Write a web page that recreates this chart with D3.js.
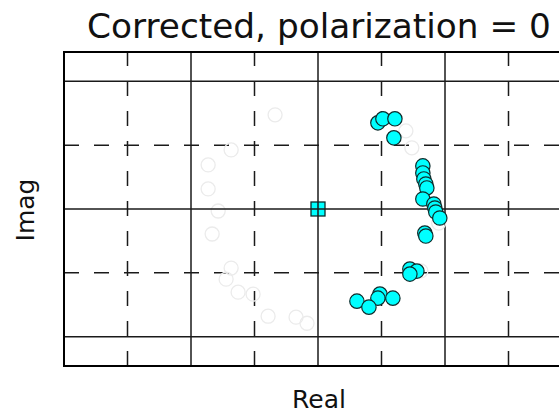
<!DOCTYPE html>
<html><head><meta charset="utf-8">
<script src="https://cdn.jsdelivr.net/npm/d3@7"></script>
<style>html,body{margin:0;padding:0;background:#fff;overflow:hidden}</style>
</head><body><svg id="c" width="559" height="414"></svg>
<script>
const titleText = "Corrected, polarization = 0";
const xLabel = "Real", yLabel = "Imag";
const majorX = [-2, 0, 2], minorX = [-3, -1, 1, 3];
const majorY = [-2, 0, 2], minorY = [-1, 1];
const correctedRe = [0.943,1.022,1.211,1.195,1.651,1.651,1.667,1.698,1.714,1.651,1.824,1.840,1.855,1.918,1.682,1.698,1.447,1.557,1.447,0.975,0.943,1.179,0.613,0.802];
const correctedIm = [1.350,1.413,1.413,1.115,0.675,0.565,0.471,0.392,0.330,0.157,0.078,0.016,-0.047,-0.141,-0.377,-0.424,-0.942,-0.973,-1.020,-1.334,-1.397,-1.397,-1.444,-1.538];
const rawRe = [-0.676,-1.368,-1.730,-1.730,-1.572,-1.667,-1.368,-1.447,-1.258,-1.022,-0.786,-0.346,-0.173,1.384,1.478,1.62,1.90];
const rawIm = [1.476,0.926,0.691,0.314,-0.031,-0.392,-0.926,-1.099,-1.303,-1.334,-1.680,-1.695,-1.790,1.224,0.958,-0.97,-0.22];
const originRe = [0], originIm = [0];

const L = 64, R = 572, T = 52, B = 366;
const x = d3.scaleLinear().domain([-4, 4]).range([L, R]);
const y = d3.scaleLinear().domain([-2.46, 2.46]).range([B, T]);
const svg = d3.select("#c");
const font = "DejaVu Sans, sans-serif";
const lineCol = "#1a1a1a";

const g = svg.append("g");
g.selectAll(".mx").data(minorX).join("line")
  .attr("x1", d => x(d)).attr("x2", d => x(d)).attr("y1", B).attr("y2", T)
  .attr("stroke", lineCol).attr("stroke-width", 1.5).attr("stroke-dasharray", "15,15");
g.selectAll(".my").data(minorY).join("line")
  .attr("x1", L).attr("x2", R).attr("y1", d => y(d)).attr("y2", d => y(d))
  .attr("stroke", lineCol).attr("stroke-width", 1.5).attr("stroke-dasharray", "15,15");
g.selectAll(".Mx").data(majorX.filter(d => d !== 0)).join("line")
  .attr("x1", d => x(d)).attr("x2", d => x(d)).attr("y1", B).attr("y2", T)
  .attr("stroke", lineCol).attr("stroke-width", 1.5);
g.selectAll(".My").data(majorY.filter(d => d !== 0)).join("line")
  .attr("x1", L).attr("x2", R).attr("y1", d => y(d)).attr("y2", d => y(d))
  .attr("stroke", lineCol).attr("stroke-width", 1.5);

svg.append("g").selectAll("circle").data(rawRe.map((d, i) => [d, rawIm[i]])).join("circle")
  .attr("cx", d => x(d[0])).attr("cy", d => y(d[1])).attr("r", 7)
  .attr("fill", "none").attr("stroke", "#ebebeb").attr("stroke-width", 1.3);

svg.append("g").selectAll("rect").data(originRe.map((d, i) => [d, originIm[i]])).join("rect")
  .attr("x", d => x(d[0]) - 7).attr("y", d => y(d[1]) - 7).attr("width", 14).attr("height", 14)
  .attr("fill", "#00ffff").attr("stroke", "#0d2b2b").attr("stroke-width", 1.3);

svg.append("line").attr("x1", x(0)).attr("x2", x(0)).attr("y1", B).attr("y2", T)
  .attr("stroke", lineCol).attr("stroke-width", 1.5);
svg.append("line").attr("x1", L).attr("x2", R).attr("y1", y(0)).attr("y2", y(0))
  .attr("stroke", lineCol).attr("stroke-width", 1.5);

svg.append("g").selectAll("circle").data(correctedRe.map((d, i) => [d, correctedIm[i]])).join("circle")
  .attr("cx", d => x(d[0])).attr("cy", d => y(d[1])).attr("r", 7.2)
  .attr("fill", "#00ffff").attr("stroke", "#0d2b2b").attr("stroke-width", 1.2);

svg.append("rect").attr("x", L).attr("y", T).attr("width", R - L).attr("height", B - T)
  .attr("fill", "none").attr("stroke", "#000").attr("stroke-width", 2);

svg.append("g").attr("transform", `translate(0,${B})`)
  .call(d3.axisBottom(x).tickValues([]).tickSizeOuter(0)).select(".domain").remove();

svg.append("text").attr("x", 319).attr("y", 38).attr("text-anchor", "middle")
  .attr("font-family", font).attr("font-size", 34.3).attr("fill", "#111").text(titleText);
svg.append("text").attr("x", 319).attr("y", 408).attr("text-anchor", "middle")
  .attr("font-family", font).attr("font-size", 25).attr("fill", "#111").text(xLabel);
svg.append("text").attr("transform", "translate(34,210) rotate(-90)").attr("text-anchor", "middle")
  .attr("font-family", font).attr("font-size", 25).attr("fill", "#111").text(yLabel);
</script></body></html>
